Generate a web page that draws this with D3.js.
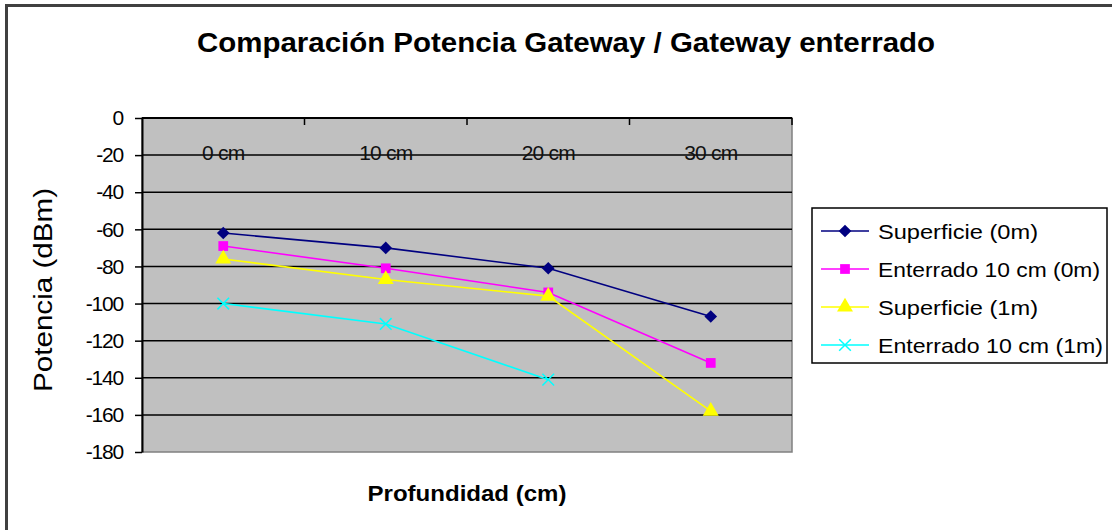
<!DOCTYPE html>
<html><head><meta charset="utf-8">
<script src="https://cdn.jsdelivr.net/npm/d3@7"></script>
<style>
body{margin:0;background:#fff;}
svg{display:block;font-family:"Liberation Sans",Arial,sans-serif;}
</style></head>
<body><svg id="c" width="1112" height="530"></svg>
<script>
const categories = ["0 cm","10 cm","20 cm","30 cm"];
const yTicks = [0,-20,-40,-60,-80,-100,-120,-140,-160,-180];
const superficie0 = [-62,-70,-81,-107];
const enterrado0 = [-69,-81,-94,-132];
const superficie1 = [-76,-87,-96,-158];
const enterrado1 = [-100,-111,-141,null];
const seriesNames = ["Superficie (0m)","Enterrado 10 cm (0m)","Superficie (1m)","Enterrado 10 cm (1m)"];
const seriesColors = ["#000080","#FF00FF","#FFFF00","#00FFFF"];
const seriesValues = [superficie0, enterrado0, superficie1, enterrado1];

// custom wide diamond
const wideDiamond = { draw(ctx, size){ const r = Math.sqrt(size/2); ctx.moveTo(0,-r); ctx.lineTo(r,0); ctx.lineTo(0,r); ctx.lineTo(-r,0); ctx.closePath(); } };
const symbols = [wideDiamond, d3.symbolSquare, d3.symbolTriangle, d3.symbolTimes];
const symSizes = [80, 95, 110, 90];

const svg = d3.select("#c");
// outer frame (top & left visible)
svg.append("line").attr("x1",5).attr("x2",1112).attr("y1",5.5).attr("y2",5.5).attr("stroke","#404040").attr("stroke-width",3);
svg.append("line").attr("x1",6.5).attr("x2",6.5).attr("y1",4).attr("y2",530).attr("stroke","#404040").attr("stroke-width",3);

const L=142, R=792, T=118, B=452;
const x = d3.scaleBand().domain(categories).range([L,R]);
const y = d3.scaleLinear().domain([-180,0]).range([B,T]);
const cx = c => x(c) + x.bandwidth()/2;

svg.append("rect").attr("x",L).attr("y",T).attr("width",R-L).attr("height",B-T)
  .attr("fill","#C0C0C0").attr("stroke","#808080").attr("stroke-width",1.5);

// gridlines
svg.append("g").selectAll("line").data(yTicks.filter(d=>d>-180 && d<0)).join("line")
  .attr("x1",L).attr("x2",R).attr("y1",d=>y(d)).attr("y2",d=>y(d))
  .attr("stroke","#000").attr("stroke-width",1.5);

// y axis
const yAxis = svg.append("g").attr("transform",`translate(${L},0)`)
  .call(d3.axisLeft(y).tickValues(yTicks).tickFormat(d=>String(d)).tickSize(7).tickSizeOuter(0).tickPadding(12));
yAxis.select(".domain").attr("stroke","#000").attr("stroke-width",2);
yAxis.selectAll(".tick line").attr("stroke","#000").attr("stroke-width",1.5);
yAxis.selectAll("text").attr("font-size",21).attr("fill","#000").attr("font-family","Liberation Sans, Arial, sans-serif").attr("letter-spacing",-1.2);

// x axis at top (value 0)
const xg = svg.append("g");
xg.append("line").attr("x1",L).attr("x2",R).attr("y1",y(0)).attr("y2",y(0)).attr("stroke","#000").attr("stroke-width",2);
xg.selectAll("line.t").data(categories.slice(1).concat(["__end"])).join("line").attr("class","t")
  .attr("x1",d=>d==="__end"?R:x(d)).attr("x2",d=>d==="__end"?R:x(d))
  .attr("y1",y(0)).attr("y2",y(0)+7).attr("stroke","#000").attr("stroke-width",1.5);
xg.selectAll("text").data(categories).join("text")
  .attr("x",cx).attr("y",y(0)+42).attr("text-anchor","middle")
  .attr("font-size",21).attr("letter-spacing",-0.8).attr("fill","#111").text(d=>d);

// series
const line = d3.line().defined(d=>d.v!==null).x(d=>cx(d.c)).y(d=>y(d.v));
seriesValues.forEach((vals,i)=>{
  const pts = categories.map((c,j)=>({c, v: vals[j]}));
  svg.append("path").datum(pts).attr("d",line).attr("fill","none")
    .attr("stroke",seriesColors[i]).attr("stroke-width",1.6);
  svg.append("g").selectAll("path").data(pts.filter(d=>d.v!==null)).join("path")
    .attr("transform",d=>`translate(${cx(d.c)},${y(d.v)})`)
    .attr("d",d3.symbol().type(symbols[i]).size(symSizes[i]))
    .attr("fill", i===3 ? "none" : seriesColors[i])
    .attr("stroke", seriesColors[i]).attr("stroke-width", i===3 ? 1.5 : 0);
});

// title
svg.append("text").attr("x",566).attr("y",52).attr("text-anchor","middle")
  .attr("font-size",27).attr("font-weight","bold").attr("fill","#000")
  .attr("textLength",738).attr("lengthAdjust","spacingAndGlyphs")
  .text("Comparación Potencia Gateway / Gateway enterrado");

// axis titles
svg.append("text").attr("transform","translate(52,290) rotate(-90)").attr("text-anchor","middle")
  .attr("font-size",25).attr("fill","#000").attr("textLength",204).attr("lengthAdjust","spacingAndGlyphs")
  .text("Potencia (dBm)");
svg.append("text").attr("x",467).attr("y",501).attr("text-anchor","middle")
  .attr("font-size",22).attr("font-weight","bold").attr("fill","#000")
  .attr("textLength",199).attr("lengthAdjust","spacingAndGlyphs")
  .text("Profundidad (cm)");

// legend
const lg = svg.append("g");
lg.append("rect").attr("x",812).attr("y",208).attr("width",295).attr("height",155)
  .attr("fill","#fff").attr("stroke","#000").attr("stroke-width",1.5);
const rowY = [231, 269, 307, 345];
const legW = [160, 222, 160, 225];
seriesNames.forEach((n,i)=>{
  lg.append("line").attr("x1",821).attr("x2",869).attr("y1",rowY[i]).attr("y2",rowY[i])
    .attr("stroke",seriesColors[i]).attr("stroke-width",1.6);
  lg.append("path").attr("transform",`translate(845,${rowY[i]})`)
    .attr("d",d3.symbol().type(symbols[i]).size(symSizes[i]))
    .attr("fill", i===3 ? "none" : seriesColors[i])
    .attr("stroke", seriesColors[i]).attr("stroke-width", i===3 ? 1.5 : 0);
  lg.append("text").attr("x",878).attr("y",rowY[i]+8).attr("font-size",21).attr("fill","#000")
    .attr("textLength",legW[i]).attr("lengthAdjust","spacingAndGlyphs").text(n);
});
</script></body></html>
